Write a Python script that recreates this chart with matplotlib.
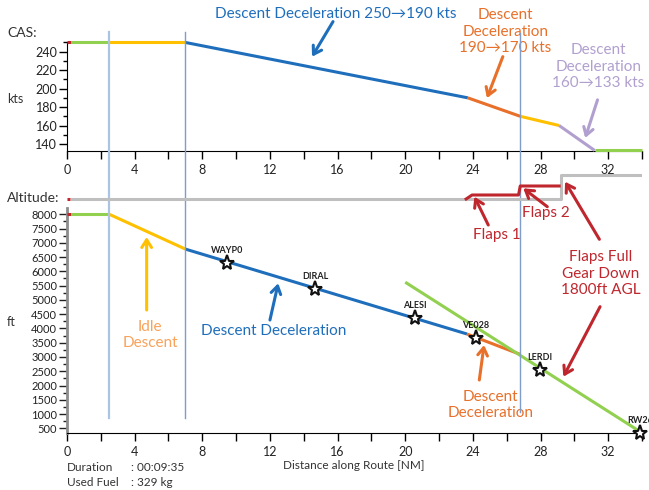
import matplotlib
matplotlib.use("Agg")
import matplotlib.pyplot as plt
import matplotlib.transforms as mtransforms
from matplotlib.lines import Line2D
from matplotlib.ticker import MultipleLocator

plt.rcParams["font.family"] = ["Lato", "DejaVu Sans"]

# colours of the flight phases
BLUE = "#1F6EBC"
ORANGE = "#E8702A"
YELLOW = "#FFC000"
GREEN = "#92D050"
PURPLE = "#B1A0CF"
RED = "#C0262D"
GRAY = "#BFBFBF"

# CAS profile [kts], one list per coloured segment
cas_red_x, cas_red_y = [0.0, 0.25], [250, 250]
cas_green_x, cas_green_y = [0.25, 2.5], [250, 250]
cas_idle_x, cas_idle_y = [2.5, 7.0], [250, 250]
cas_dec1_x, cas_dec1_y = [7.0, 23.7], [250, 190]
cas_dec2_x, cas_dec2_y = [23.7, 26.8], [190, 170]
cas_dec3_x, cas_dec3_y = [26.8, 29.1], [170, 160]
cas_dec4_x, cas_dec4_y = [29.1, 31.2], [160, 133]
cas_final_x, cas_final_y = [31.2, 34.0], [133, 133]

# altitude profile [ft]
alt_red_x, alt_red_y = [0.0, 0.24], [8000, 8000]
alt_green_x, alt_green_y = [0.24, 2.5], [8000, 8000]
alt_idle_x, alt_idle_y = [2.5, 7.0], [8000, 6780]
alt_dec_x, alt_dec_y = [7.0, 23.65], [6780, 3805]
alt_dec2_x, alt_dec2_y = [23.65, 26.8], [3805, 3090]
alt_gs_x, alt_gs_y = [20.0, 34.0], [5620, 340]

# waypoints
wp_names = ["WAYP0", "DIRAL", "ALESI", "VE028", "LERDI", "RW26"]
wp_x = [9.49, 14.67, 20.59, 24.18, 27.95, 33.9]
wp_alt = [6310, 5390, 4355, 3680, 2550, 340]

# flap / gear configuration steps (0 clean, then flaps 1, flaps 2, full)
flap_gray_x = [0.3, 29.2, 29.2, 34.0]
flap_gray_y = [0, 0, 24, 24]
flap_red_x = [23.6, 23.95, 26.7, 26.8, 29.1]
flap_red_y = [0, 4, 4, 13, 13]

# phase boundaries
bound_x = [2.5, 7.0, 26.8]

duration = "00:09:35"
used_fuel = "329 kg"

W, H = 649, 490
fig = plt.figure(figsize=(W / 100, H / 100), dpi=100)


def px(x0, y0, x1, y1):
    return [x0 / W, 1 - y1 / H, (x1 - x0) / W, (y1 - y0) / H]


ax_cas = fig.add_axes(px(67, 42, 642, 151))
ax_alt = fig.add_axes(px(67, 208, 642, 433.3))
ax_flap = fig.add_axes(px(67, 172, 642, 205))
for ax in (ax_cas, ax_alt, ax_flap):
    ax.patch.set_visible(False)
ax_flap.set_zorder(5)

lw = 2.2

# ---- CAS panel
for xs, ys, c in [
    (cas_red_x, cas_red_y, RED),
    (cas_green_x, cas_green_y, GREEN),
    (cas_idle_x, cas_idle_y, YELLOW),
    (cas_dec1_x, cas_dec1_y, BLUE),
    (cas_dec2_x, cas_dec2_y, ORANGE),
    (cas_dec3_x, cas_dec3_y, YELLOW),
    (cas_dec4_x, cas_dec4_y, PURPLE),
    (cas_final_x, cas_final_y, GREEN),
]:
    ax_cas.plot(xs, ys, color=c, lw=lw, solid_capstyle="butt", clip_on=False, zorder=3)

ax_cas.set_xlim(0, 34)
ax_cas.set_ylim(132.4, 250.5)
ax_cas.yaxis.set_major_locator(MultipleLocator(20))
ax_cas.yaxis.set_minor_locator(MultipleLocator(10))
ax_cas.xaxis.set_major_locator(MultipleLocator(4))
ax_cas.xaxis.set_minor_locator(MultipleLocator(2))

# ---- flap line
ax_flap.plot(flap_gray_x, flap_gray_y, color=GRAY, lw=lw, zorder=2)
ax_flap.plot(flap_red_x, flap_red_y, color=RED, lw=lw, zorder=3)
ax_flap.plot([0.0, 0.15], [0, 0], color=RED, lw=lw, solid_capstyle="butt")
ax_flap.set_xlim(0, 34)
ax_flap.set_ylim(-6, 27)
ax_flap.axis("off")

# ---- altitude panel
for xs, ys, c in [
    (alt_red_x, alt_red_y, RED),
    (alt_green_x, alt_green_y, GREEN),
    (alt_idle_x, alt_idle_y, YELLOW),
    (alt_dec_x, alt_dec_y, BLUE),
    (alt_dec2_x, alt_dec2_y, ORANGE),
    (alt_gs_x, alt_gs_y, GREEN),
]:
    ax_alt.plot(xs, ys, color=c, lw=lw, solid_capstyle="butt", clip_on=False, zorder=3)

ax_alt.plot(wp_x, wp_alt, ls="none", marker="*", ms=11, mfc="white", mec="#111111",
            mew=1.5, clip_on=False, zorder=5)
for name, x, y in zip(wp_names, wp_x, wp_alt):
    ax_alt.annotate(name, (x, y), xytext=(0, 9), textcoords="offset points",
                    ha="center", va="center", fontsize=6.5, fontweight="bold",
                    color="#222222", annotation_clip=False)

ax_alt.set_xlim(0, 34)
ax_alt.set_ylim(325, 8220)
ax_alt.yaxis.set_major_locator(MultipleLocator(500))
ax_alt.yaxis.set_minor_locator(MultipleLocator(250))
ax_alt.xaxis.set_major_locator(MultipleLocator(4))
ax_alt.xaxis.set_minor_locator(MultipleLocator(2))

for ax, fs in [(ax_cas, 9), (ax_alt, 8)]:
    ax.spines["top"].set_visible(False)
    ax.spines["right"].set_visible(False)
    ax.tick_params(axis="y", which="major", length=6, width=1, labelsize=fs, pad=1,
                   labelcolor="#222222")
    ax.tick_params(axis="y", which="minor", length=3, width=1)
    ax.tick_params(axis="x", which="both", length=6, width=1, labelsize=9, pad=3,
                   labelcolor="#222222")
    ax.set_xticklabels([f"{int(t)}" for t in ax.get_xticks()])
ax_alt.spines["left"].set_color("#8C8C8C")
ax_alt.spines["left"].set_linewidth(2)
ax_alt.tick_params(axis="y", which="both", color="#222222")

# phase boundary lines across both panels
trans = mtransforms.blended_transform_factory(ax_cas.transData, fig.transFigure)
for x, c, w, y0, y1 in zip(bound_x, ["#A9C4E4", "#7F9CCB", "#7F9CCB"], [1.6, 1.0, 1.0],
                           [32, 32, 33], [418, 418, 412]):
    fig.add_artist(Line2D([x, x], [1 - y1 / H, 1 - y0 / H], color=c, lw=w,
                          transform=trans, zorder=1))

# ---- labels
fig.text(7 / W, 1 - 33 / H, "CAS:", fontsize=10, color="#333333", va="center")
fig.text(7 / W, 1 - 99 / H, "kts", fontsize=9, color="#333333", va="center")
fig.text(7 / W, 1 - 198 / H, "Altitude:", fontsize=10, color="#333333", va="center")
fig.text(7 / W, 1 - 322 / H, "ft", fontsize=9, color="#333333", va="center")
fig.text(354 / W, 1 - 465 / H, "Distance along Route [NM]", fontsize=8.5,
         color="#333333", ha="center", va="center")
fig.text(67 / W, 1 - 467 / H, "Duration", fontsize=8.5, color="#333333", va="center")
fig.text(67 / W, 1 - 482 / H, "Used Fuel", fontsize=8.5, color="#333333", va="center")
fig.text(131 / W, 1 - 467 / H, ": " + duration, fontsize=8.5, color="#333333", va="center")
fig.text(131 / W, 1 - 482 / H, ": " + used_fuel, fontsize=8.5, color="#333333", va="center")

# ---- annotations with arrows
def arrow(ax, tail, head, color):
    ax.annotate("", xy=head, xytext=tail, annotation_clip=False,
                arrowprops=dict(arrowstyle="->,head_length=0.55,head_width=0.35",
                                color=color, lw=2.2, shrinkA=0, shrinkB=0))


fs = 11
ax_cas.text(15.91, 281.3, "Descent Deceleration 250\u2192190 kts", color=BLUE,
            fontsize=fs, ha="center", va="center", clip_on=False)
arrow(ax_cas, (15.73, 272.6), (14.49, 234.6), BLUE)

ax_cas.text(25.91, 261.7, "Descent\nDeceleration\n190\u2192170 kts", color=ORANGE,
            fontsize=fs, ha="center", va="center", linespacing=1.25, clip_on=False)
arrow(ax_cas, (25.77, 234.6), (24.83, 189.7), ORANGE)

ax_cas.text(31.41, 223.7, "Descent\nDeceleration\n160\u2192133 kts", color=PURPLE,
            fontsize=fs, ha="center", va="center", linespacing=1.25, clip_on=False)
arrow(ax_cas, (31.37, 187.8), (30.64, 146.5), PURPLE)

ax_flap.text(25.41, -36, "Flaps 1", color=RED, fontsize=fs, ha="center", va="center",
             clip_on=False)
arrow(ax_flap, (24.91, -26), (24.09, 2.3), RED)
ax_flap.text(28.33, -14.3, "Flaps 2", color=RED, fontsize=fs, ha="center", va="center",
             clip_on=False)
arrow(ax_flap, (28.4, -7.7), (26.98, 10.7), RED)
arrow(ax_flap, (31.48, -40.3), (29.45, 17.3), RED)

ax_alt.text(31.58, 5922, "Flaps Full\nGear Down\n1800ft AGL", color=RED, fontsize=fs,
            ha="center", va="center", linespacing=1.2, clip_on=False)
arrow(ax_alt, (31.52, 4761), (29.35, 2308), RED)

ax_alt.text(4.91, 3769, "Idle\nDescent", color="#F8A25A", fontsize=fs, ha="center",
            va="center", linespacing=1.2)
arrow(ax_alt, (4.71, 4646), (4.71, 7204), YELLOW)

ax_alt.text(12.24, 3910, "Descent Deceleration", color=BLUE, fontsize=fs,
            ha="center", va="center")
arrow(ax_alt, (12.0, 4295), (12.49, 5582), BLUE)

ax_alt.text(25.06, 1326, "Descent\nDeceleration", color=ORANGE, fontsize=fs,
            ha="center", va="center", linespacing=1.2)
arrow(ax_alt, (24.38, 2192), (24.66, 3419), ORANGE)

fig.savefig("out.png", dpi=100)
